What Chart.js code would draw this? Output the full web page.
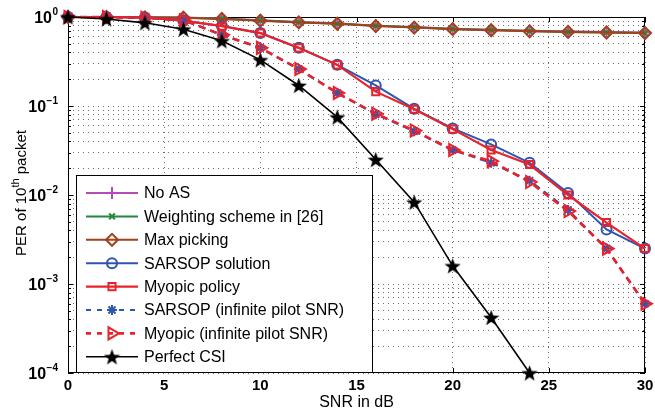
<!DOCTYPE html>
<html lang="en">
<head>
<meta charset="UTF-8">
<title>PER vs SNR</title>
<script src="https://cdn.jsdelivr.net/npm/chart.js"></script>
<style>
  body { margin: 0; background: #fff; }
  #perChart { display: block; }
</style>
</head>
<body>
<canvas id="perChart" width="655" height="415"></canvas>
<script>
// data
const snr = [0, 2, 4, 6, 8, 10, 12, 14, 16, 18, 20, 22, 24, 26, 28, 30];
const noAS = [1, 1, 0.995, 0.985, 0.96, 0.92, 0.88, 0.85, 0.80, 0.77, 0.74, 0.72, 0.70, 0.69, 0.68, 0.67];
const weighting = [1, 1, 0.995, 0.98, 0.955, 0.915, 0.875, 0.84, 0.795, 0.765, 0.735, 0.715, 0.695, 0.68, 0.67, 0.66];
const maxPicking = [1, 1, 0.99, 0.98, 0.95, 0.91, 0.87, 0.84, 0.79, 0.76, 0.73, 0.71, 0.69, 0.68, 0.67, 0.66];
const sarsop = [1, 1, 0.99, 0.91, 0.79, 0.66, 0.45, 0.29, 0.17, 0.093, 0.056, 0.037, 0.023, 0.0105, 0.0041, 0.0025];
const myopic = [1, 1, 0.99, 0.91, 0.79, 0.66, 0.45, 0.29, 0.145, 0.092, 0.055, 0.032, 0.022, 0.010, 0.0049, 0.0025];
const sarsopInf = [1, 1, 0.98, 0.92, 0.63, 0.45, 0.26, 0.14, 0.081, 0.052, 0.032, 0.023, 0.0145, 0.0068, 0.0025, 0.0006];
const myopicInf = [1, 1, 0.98, 0.92, 0.63, 0.45, 0.26, 0.14, 0.082, 0.053, 0.032, 0.024, 0.014, 0.0066, 0.0025, 0.0006];
const perfectCSI = [1, 0.95, 0.86, 0.73, 0.54, 0.33, 0.17, 0.075, 0.025, 0.0083, 0.0016, 0.00042, 0.0001];

const xTicks = [0, 5, 10, 15, 20, 25, 30];
const yExponents = [0, -1, -2, -3, -4];

// filled five point star for the Perfect CSI marker
function makeStar(size) {
    const c = document.createElement('canvas');
    c.width = size; c.height = size;
    const g = c.getContext('2d');
    const cx = size / 2, cy = size / 2 + 0.8, R = size / 2, r = R * 0.42;
    g.beginPath();
    for (let i = 0; i < 10; i++) {
        const rad = i % 2 ? r : R;
        const a = -Math.PI / 2 + i * Math.PI / 5;
        g.lineTo(cx + rad * Math.cos(a), cy + rad * Math.sin(a));
    }
    g.closePath();
    g.fillStyle = '#000';
    g.fill();
    return c;
}
const starImg = makeStar(17);

function pts(ys) { return ys.map((y, i) => ({x: snr[i], y: y})); }

const clear = 'rgba(0,0,0,0)';
const datasets = [
    {label: 'No AS', data: pts(noAS), borderColor: '#b54bb5', pointStyle: 'cross', pointRadius: 6, borderWidth: 2},
    {label: 'Weighting scheme in [26]', data: pts(weighting), borderColor: '#1e8a3c', pointStyle: 'crossRot', pointRadius: 4, borderWidth: 2},
    {label: 'Max picking', data: pts(maxPicking), borderColor: '#a4401c', pointStyle: 'rectRot', pointRadius: 6, borderWidth: 2},
    {label: 'SARSOP solution', data: pts(sarsop), borderColor: '#2e55b0', pointStyle: 'circle', pointRadius: 5, borderWidth: 2},
    {label: 'Myopic policy', data: pts(myopic), borderColor: '#e8232b', pointStyle: 'rect', pointRadius: 5, borderWidth: 2.2},
    {label: 'SARSOP (infinite pilot SNR)', data: pts(sarsopInf), borderColor: '#2e55b0', pointStyle: 'star', pointRadius: 5, borderWidth: 2.2, borderDash: [7, 5]},
    {label: 'Myopic (infinite pilot SNR)', data: pts(myopicInf), borderColor: '#e8232b', pointStyle: 'triangle', pointRotation: 90, pointRadius: 7, borderWidth: 2.6, borderDash: [7, 5]},
    {label: 'Perfect CSI', data: pts(perfectCSI), borderColor: '#000', pointStyle: starImg, pointRadius: 8, borderWidth: 1.6}
];
datasets.forEach((d, i) => {
    d.backgroundColor = clear;
    d.pointBackgroundColor = clear;
    d.pointBorderColor = d.borderColor;
    d.pointBorderWidth = 2;
    d.fill = false;
    d.tension = 0;
    d.clip = false;
    d.order = -i; // later series on top, as in the original plot
});

const FONT = '"Liberation Sans", Arial, sans-serif';

// box, tick labels, axis titles and the in-plot legend
const decorPlugin = {
    id: 'decor',
    beforeDatasetsDraw(chart) {
        const ctx = chart.ctx;
        const a = chart.chartArea;
        const xs = chart.scales.x, ys = chart.scales.y;
        ctx.save();
        // frame
        ctx.strokeStyle = '#000';
        ctx.lineWidth = 1;
        ctx.strokeRect(a.left + 0.5, a.top + 0.5, a.right - a.left - 1, a.bottom - a.top - 1);

        // inward tick marks
        ctx.beginPath();
        xTicks.forEach(v => {
            const px = Math.round(xs.getPixelForValue(v)) + 0.5;
            ctx.moveTo(px, a.bottom); ctx.lineTo(px, a.bottom - 5);
            ctx.moveTo(px, a.top); ctx.lineTo(px, a.top + 5);
        });
        for (let e = -4; e <= 0; e++) {
            for (let m = 1; m <= 9; m++) {
                const v = m * Math.pow(10, e);
                if (v > 1) break;
                const py = Math.round(ys.getPixelForValue(v)) + 0.5;
                const len = m === 1 ? 5 : 3;
                ctx.moveTo(a.left, py); ctx.lineTo(a.left + len, py);
                ctx.moveTo(a.right, py); ctx.lineTo(a.right - len, py);
            }
        }
        ctx.stroke();

        // x tick labels
        ctx.fillStyle = '#000';
        ctx.font = 'bold 15px ' + FONT;
        ctx.textAlign = 'center';
        ctx.textBaseline = 'middle';
        xTicks.forEach(v => ctx.fillText(String(v), xs.getPixelForValue(v), a.bottom + 13));

        // y tick labels 10^k
        yExponents.forEach(e => {
            const py = ys.getPixelForValue(Math.pow(10, e));
            const sup = e === 0 ? '0' : '\u2212' + (-e);
            ctx.font = 'bold 10px ' + FONT;
            const supW = ctx.measureText(sup).width;
            ctx.textAlign = 'left';
            ctx.textBaseline = 'middle';
            const supX = a.left - 10 - supW;
            ctx.fillText(sup, supX, py - 5);
            ctx.font = 'bold 16px ' + FONT;
            ctx.textAlign = 'right';
            ctx.fillText('10', supX - 0.5, py + 2);
        });

        // axis titles
        ctx.font = '16px ' + FONT;
        ctx.textAlign = 'center';
        ctx.textBaseline = 'middle';
        ctx.fillText('SNR in dB', (a.left + a.right) / 2, a.bottom + 30);

        ctx.save();
        ctx.translate(22, 193);
        ctx.rotate(-Math.PI / 2);
        const p1 = 'PER of 10', p2 = 'th', p3 = ' packet';
        ctx.font = '15px ' + FONT;
        const w1 = ctx.measureText(p1).width, w3 = ctx.measureText(p3).width;
        ctx.font = '11px ' + FONT;
        const w2 = ctx.measureText(p2).width;
        let x0 = -(w1 + w2 + w3) / 2;
        ctx.textAlign = 'left';
        ctx.font = '15px ' + FONT;
        ctx.fillText(p1, x0, 0);
        ctx.font = '11px ' + FONT;
        ctx.fillText(p2, x0 + w1, -6);
        ctx.font = '15px ' + FONT;
        ctx.fillText(p3, x0 + w1 + w2, 0);
        ctx.restore();
        ctx.restore();
    },
    afterDraw(chart) {
        const ctx = chart.ctx;
        const a = chart.chartArea;
        ctx.save();
        // legend box
        const lx = 76, ly = 175, lw = 296, lh = a.bottom - 175;
        ctx.fillStyle = '#fff';
        ctx.fillRect(lx, ly, lw, lh);
        ctx.strokeStyle = '#000';
        ctx.lineWidth = 1;
        ctx.strokeRect(lx + 0.5, ly + 0.5, lw, lh - 1);
        chart.data.datasets.forEach((d, i) => {
            const ry = 193 + i * 23.4;
            ctx.save();
            ctx.strokeStyle = d.borderColor;
            ctx.lineWidth = d.borderWidth;
            ctx.setLineDash(d.borderDash ? [5, 6] : []);
            ctx.beginPath();
            ctx.moveTo(86, ry); ctx.lineTo(138, ry);
            ctx.stroke();
            ctx.setLineDash([]);
            ctx.fillStyle = clear;
            ctx.strokeStyle = d.pointBorderColor;
            ctx.lineWidth = d.pointBorderWidth;
            Chart.helpers.drawPoint(ctx, {
                pointStyle: d.pointStyle, radius: d.pointRadius, rotation: d.pointRotation || 0,
                borderWidth: d.pointBorderWidth
            }, 112, ry);
            ctx.restore();
            ctx.fillStyle = '#000';
            ctx.font = '16px ' + FONT;
            ctx.textAlign = 'left';
            ctx.textBaseline = 'middle';
            ctx.fillText(d.label, 144, ry + 1);
        });
        ctx.restore();
    }
};

const gridColor = 'rgba(60,60,60,0.75)';
new Chart(document.getElementById('perChart').getContext('2d'), {
    type: 'line',
    data: {datasets: datasets},
    options: {
        responsive: false,
        animation: false,
        events: [],
        layout: {padding: {top: 17, right: 5, left: 0, bottom: 0}},
        plugins: {legend: {display: false}, tooltip: {enabled: false}},
        scales: {
            x: {
                type: 'linear', min: 0, max: 30,
                afterBuildTicks: s => { s.ticks = xTicks.map(v => ({value: v})); },
                ticks: {display: false},
                grid: {color: gridColor, lineWidth: 1, drawTicks: false},
                border: {display: false, dash: [1, 4]},
                afterFit: s => { s.height = 42; }
            },
            y: {
                type: 'logarithmic', min: 1e-4, max: 1,
                afterBuildTicks: s => {
                    const t = [];
                    for (let e = -4; e <= 0; e++) {
                        for (let m = 1; m <= 9; m++) {
                            const v = m * Math.pow(10, e);
                            if (v <= 1) t.push({value: v});
                        }
                    }
                    s.ticks = t;
                },
                ticks: {display: false, autoSkip: false},
                grid: {color: gridColor, lineWidth: 1, drawTicks: false},
                border: {display: false, dash: [1, 4]},
                afterFit: s => { s.width = 68; }
            }
        }
    },
    plugins: [decorPlugin]
});
</script>
</body>
</html>
